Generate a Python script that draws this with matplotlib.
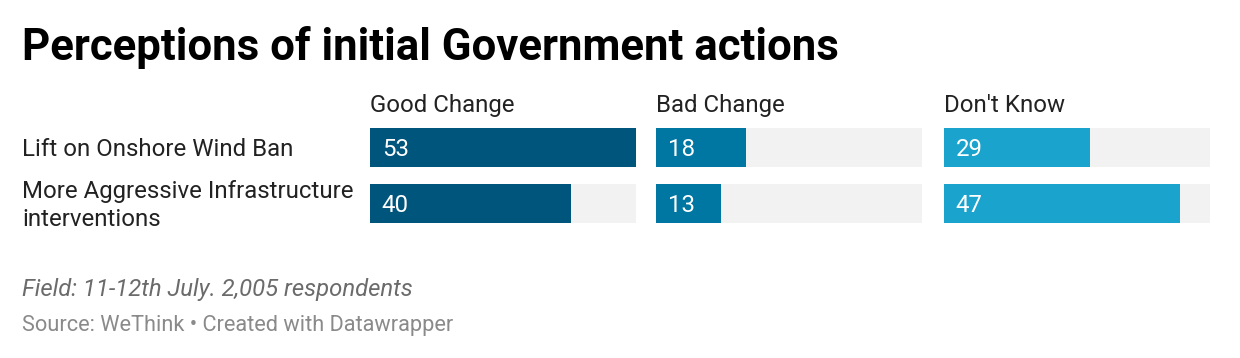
import matplotlib
matplotlib.use('Agg')
import matplotlib.pyplot as plt
import matplotlib.transforms as mtransforms

plt.rcParams['font.family'] = ['Roboto', 'DejaVu Sans']

categories = ['Lift on Onshore Wind Ban', 'More Aggressive Infrastructure\ninterventions']
columns = ['Good Change', 'Bad Change', "Don't Know"]
good_change = [53, 40]
bad_change = [18, 13]
dont_know = [29, 47]
series = [good_change, bad_change, dont_know]
colors = ['#00557d', '#0077a3', '#1aa3cd']
scale_max = 53

W, H = 1240, 358
fig = plt.figure(figsize=(W / 100, H / 100), dpi=100)
fig.patch.set_facecolor('white')

col_left = [370, 656, 944]
col_width = 266
top_px, bottom_px = 128, 223
bar_h = 39 / 56
pad = bar_h / 2
fs = 17.3

axes = []
for i, (name, vals, c) in enumerate(zip(columns, series, colors)):
    ax = fig.add_axes([col_left[i] / W, 1 - bottom_px / H, col_width / W, (bottom_px - top_px) / H])
    ypos = list(range(len(categories)))
    ax.barh(ypos, [scale_max] * len(ypos), height=bar_h, color='#f2f2f2', zorder=1)
    ax.barh(ypos, vals, height=bar_h, color=c, zorder=2)
    for y, v in zip(ypos, vals):
        ax.annotate(str(v), xy=(0, y), xytext=(8.5, -1.5), textcoords='offset points',
                    va='center', ha='left', color='white', fontsize=fs, zorder=3)
    ax.set_xlim(0, scale_max)
    ax.set_ylim(len(categories) - 1 + pad, -pad)
    ax.axis('off')
    ax.annotate(name, xy=(0, 1), xycoords='axes fraction', xytext=(0, 11.5),
                textcoords='offset points', va='baseline', ha='left',
                fontsize=fs, color='#222222')
    axes.append(ax)

trans = mtransforms.blended_transform_factory(fig.transFigure, axes[0].transData)
for y, label in enumerate(categories):
    axes[0].annotate(label, xy=(22 / W, y), xycoords=trans, xytext=(0, -1.5),
                     textcoords='offset points', va='center', ha='left',
                     fontsize=fs, color='#222222', linespacing=1.25)

fig.text(22 / W, 1 - 60 / H, 'Perceptions of initial Government actions',
         fontsize=31.5, fontweight='bold', color='black', va='baseline', ha='left')
fig.text(22 / W, 1 - 296 / H, 'Field: 11-12th July. 2,005 respondents',
         fontsize=17.2, style='italic', color='#6b6b6b', va='baseline', ha='left')
fig.text(22 / W, 1 - 331 / H, 'Source: WeThink \u2022 Created with Datawrapper',
         fontsize=15.7, color='#8a8a8a', va='baseline', ha='left')

fig.savefig('out.png', dpi=100, facecolor='white')
